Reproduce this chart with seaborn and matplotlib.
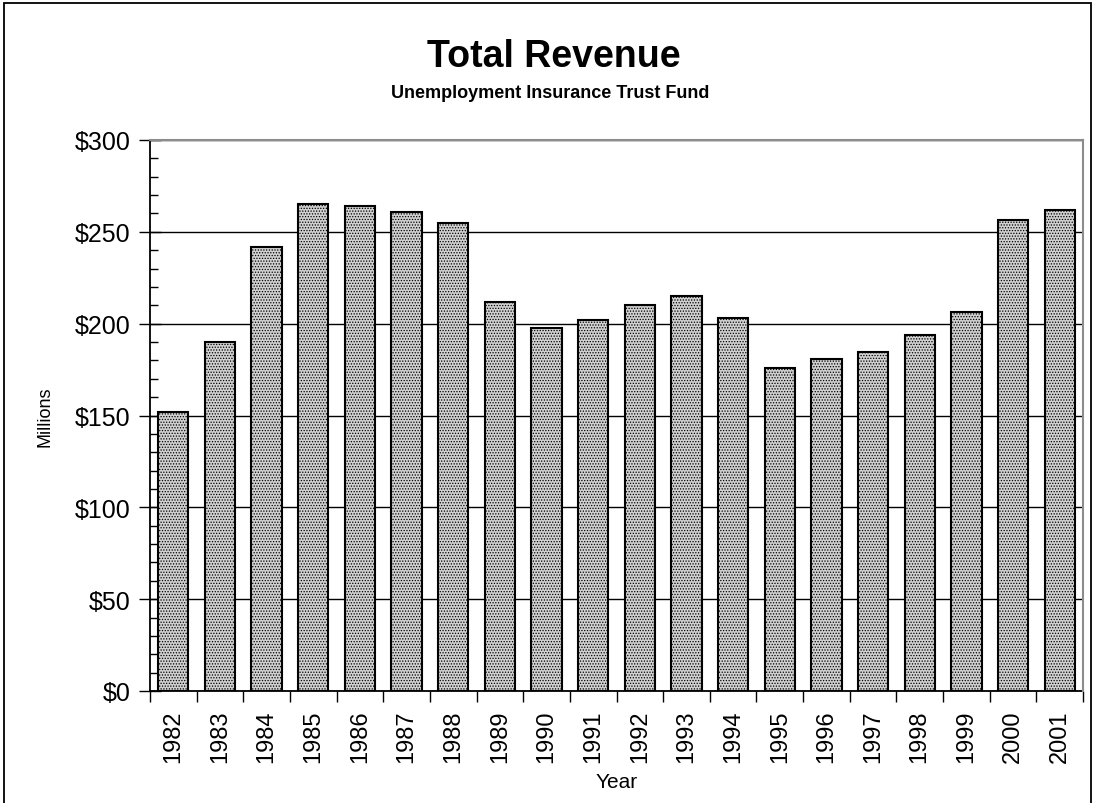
import matplotlib
matplotlib.use("Agg")
import matplotlib.pyplot as plt
import matplotlib.ticker as mticker
from matplotlib.patches import Rectangle
import numpy as np
import pandas as pd
import seaborn as sns

years = ["1982", "1983", "1984", "1985", "1986", "1987", "1988", "1989", "1990", "1991",
         "1992", "1993", "1994", "1995", "1996", "1997", "1998", "1999", "2000", "2001"]
revenue = [152, 190, 242, 265, 264, 261, 255, 212, 197.5, 202,
           210, 215, 203, 176, 181, 184.5, 194, 206.5, 256.5, 262]
y_ticks = [0, 50, 100, 150, 200, 250, 300]
y_tick_labels = ["$0", "$50", "$100", "$150", "$200", "$250", "$300"]

title = "Total Revenue"
subtitle = "Unemployment Insurance Trust Fund"

sns.set_theme(style="white")
plt.rcParams["font.family"] = ["Liberation Sans", "DejaVu Sans"]
plt.rcParams["text.color"] = "black"
plt.rcParams["axes.labelcolor"] = "black"
plt.rcParams["xtick.color"] = "black"
plt.rcParams["ytick.color"] = "black"
plt.rcParams["hatch.color"] = "#9a9a9a"
plt.rcParams["hatch.linewidth"] = 0.6

df = pd.DataFrame({"Year": years, "Revenue": revenue})

fig = plt.figure(figsize=(10.94, 8.04), dpi=100)
ax = fig.add_axes([150 / 1094, 1 - 692 / 804, (1083 - 150) / 1094, (692 - 141) / 804])

sns.barplot(data=df, x="Year", y="Revenue", color="#d0d0d0", saturation=1,
            width=0.65, edgecolor="black", linewidth=1.5, ax=ax, zorder=3)
for p in ax.patches:
    p.set_hatch("......")

ax.set_xlim(-0.5, len(years) - 0.5)
ax.set_ylim(0, 300)
ax.set_yticks(y_ticks)
ax.set_yticklabels(y_tick_labels)
ax.yaxis.set_minor_locator(mticker.MultipleLocator(10))
ax.tick_params(axis="y", which="major", direction="inout", length=16, width=1,
               color="black", labelsize=18, pad=6, left=True)
ax.tick_params(axis="y", which="minor", direction="in", length=6, width=1,
               color="black", left=True)

ax.xaxis.set_minor_locator(mticker.FixedLocator(np.arange(-0.5, len(years), 1.0)))
ax.tick_params(axis="x", which="major", length=0, labelsize=17, pad=13,
               labelrotation=90)
ax.tick_params(axis="x", which="minor", direction="out", length=8, width=1,
               color="black", bottom=True)

ax.set_axisbelow(True)
ax.yaxis.grid(True, color="black", linewidth=1)
ax.xaxis.grid(False)

for side in ["left", "bottom"]:
    ax.spines[side].set_color("black")
    ax.spines[side].set_linewidth(1.3)
for side in ["top", "right"]:
    ax.spines[side].set_color("#8c8c8c")
    ax.spines[side].set_linewidth(1.5)
    ax.spines[side].set_zorder(4)

ax.set_xlabel("Year", fontsize=15)
ax.set_ylabel("Millions", fontsize=13)
ax.yaxis.set_label_coords(-(150 - 45) / 933, 0.5)
ax.xaxis.set_label_coords(0.5, -(783 - 692) / 551)
ax.xaxis.label.set_va("center")
ax.yaxis.label.set_va("center")

fig.text(554 / 1094, 1 - 67 / 804, title, ha="center", va="baseline",
         fontsize=27, fontweight="bold")
fig.text(550 / 1094, 1 - 98 / 804, subtitle, ha="center", va="baseline",
         fontsize=13, fontweight="bold")

fig.patches.append(Rectangle((4 / 1094, -0.01), 1087 / 1094, 1 - 4 / 804 + 0.01,
                             transform=fig.transFigure, fill=False,
                             edgecolor="black", linewidth=1.3))

fig.savefig("out.png", dpi=100)
